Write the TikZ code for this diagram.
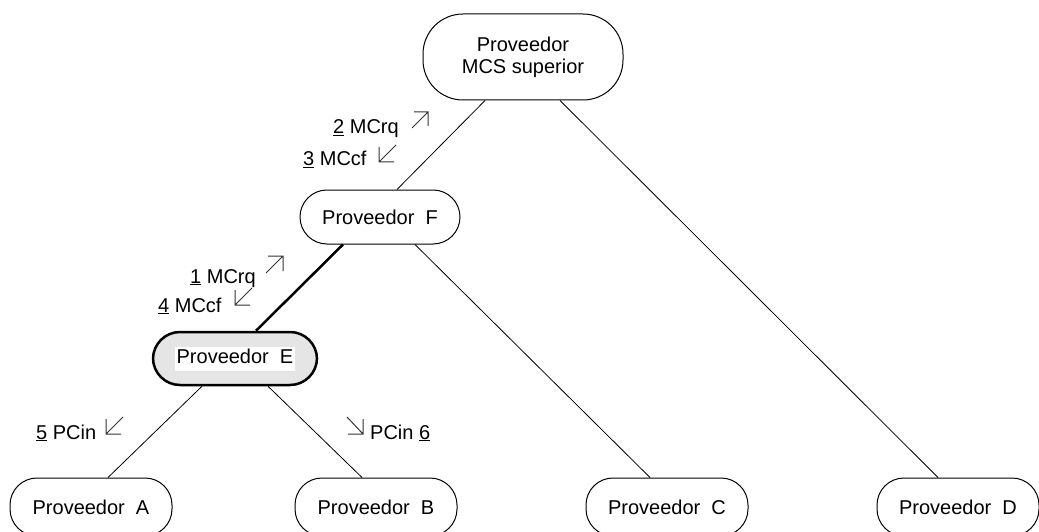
\documentclass[tikz,border=0pt]{standalone}
\usepackage{fontspec}
\setmainfont{Liberation Sans}
\newcommand\fs{\fontsize{20}{22}\selectfont}
\begin{document}
\begin{tikzpicture}[x=1pt,y=-1pt,
  prov/.style={draw, line width=1pt, rounded corners=27pt, minimum width=160pt,
    minimum height=54pt, inner sep=0pt, font=\fs},
  link/.style={line width=0.8pt},
  thicklink/.style={line width=2.5pt},
  lab/.style={anchor=base west, inner sep=0pt, font=\fs},
  sym/.style={line width=1pt, draw=black!80}]
\useasboundingbox (0,0) rectangle (1039,532);
% nodes
\node[prov, minimum width=200pt, minimum height=86pt, rounded corners=40pt, align=center] (top) at (523,57) {Proveedor\\MCS superior};
\node[prov] (F) at (380,217) {Proveedor\ \ F};
\node[prov, minimum width=164pt, minimum height=53pt, line width=2.5pt, fill=black!10] (E) at (235,358.5)
  {\setlength\fboxsep{2pt}\colorbox{white}{\rule[-5pt]{0pt}{20pt}Proveedor\ \ E}};
\node[prov, minimum width=162pt, minimum height=58pt] (A) at (91,507) {Proveedor\ \ A};
\node[prov, minimum width=162pt, minimum height=58pt] (B) at (376,507) {Proveedor\ \ B};
\node[prov, minimum width=162pt, minimum height=58pt] (C) at (667,507) {Proveedor\ \ C};
\node[prov, minimum width=162pt, minimum height=58pt] (D) at (958,507) {Proveedor\ \ D};
% connectors
\draw[link] ([xshift=-38pt]top.south) -- ([xshift=17pt]F.north);
\draw[link] ([xshift=37pt]top.south) -- ([xshift=-20pt]D.north);
\draw[thicklink] ([xshift=-37pt]F.south) -- ([xshift=21pt]E.north);
\draw[link] ([xshift=35pt]F.south) -- ([xshift=-17pt]C.north);
\draw[link] ([xshift=-33pt]E.south) -- ([xshift=17pt]A.north);
\draw[link] ([xshift=33pt]E.south) -- ([xshift=-14pt]B.north);
% labels
\node[lab] (l2) at (333,134) {\underline{2} MCrq};
\node[lab] (l3) at (303,166) {\underline{3} MCcf};
\node[lab] (l1) at (190,283) {\underline{1} MCrq};
\node[lab] (l4) at (158,312) {\underline{4} MCcf};
\node[lab] (l5) at (36,439) {\underline{5} PCin};
\node[lab] (l6) at (370,439) {PCin \underline{6}};
% direction symbols
\draw[sym] (412,128) -- (428,112) (414,112) -- (428,112) -- (428,126);
\draw[sym] (396,145) -- (379,162) (379,147) -- (379,162) -- (394,162);
\draw[sym] (266,273) -- (283,256) (268,256) -- (283,256) -- (283,271);
\draw[sym] (252,288) -- (235,305) (235,290) -- (235,305) -- (250,305);
\draw[sym] (123,417) -- (106,434) (106,419) -- (106,434) -- (121,434);
\draw[sym] (347,417) -- (363,434) (348,434) -- (363,434) -- (363,419);
\end{tikzpicture}
\end{document}
